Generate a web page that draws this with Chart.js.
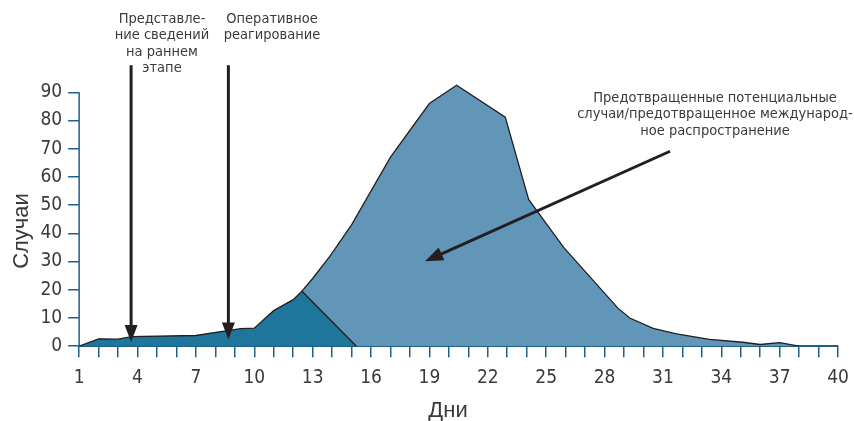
<!DOCTYPE html>
<html>
<head>
<meta charset="utf-8">
<script src="https://cdn.jsdelivr.net/npm/chart.js@4"></script>
<style>
  html, body { margin: 0; padding: 0; background: #fff; }
  #wrap { width: 854px; height: 421px; }
</style>
</head>
<body>
<div id="wrap"><canvas id="epiChart"></canvas></div>
<script>
// days and case counts
const earlyDays  = [1, 2, 3, 3.7, 7, 9.3, 10, 11, 12, 12.45, 15.25];
const earlyCases = [0, 2.6, 2.5, 3.4, 3.8, 6.2, 6.4, 12.6, 16.5, 19.5, 0];

const preventedDays  = [12.45, 13, 13.9, 15, 17, 19, 20.4, 22.9, 24.1, 25.9, 28.7, 29.3, 30.5, 31.7, 33.4, 35.1, 36, 37, 38];
const preventedCases = [19.5, 24, 32, 43, 67, 86, 92.5, 81.2, 52, 35, 13.4, 10, 6.3, 4.4, 2.4, 1.4, 0.6, 1.3, 0];

const xTickStep = 3;
const yTicks = [0, 10, 20, 30, 40, 50, 60, 70, 80, 90];

const labelEarly = ["Представле-", "ние сведений", "на раннем", "этапе"];
const labelResponse = ["Оперативное", "реагирование"];
const labelPrevented = ["Предотвращенные потенциальные", "случаи/предотвращенное международ-", "ное распространение"];
const xTitle = "Дни";
const yTitle = "Случаи";

const axisBlue = "#1d6088";
const textGray = "#3a3a3a";
const narrow = "'DejaVu Sans Condensed', 'Roboto', sans-serif";
const plain = "'Liberation Sans', Arial, sans-serif";

function toPoints(xs, ys) {
  return xs.map((x, i) => ({ x: x, y: ys[i] }));
}

function drawArrow(ctx, x1, y1, x2, y2, head, width) {
  const ang = Math.atan2(y2 - y1, x2 - x1);
  ctx.save();
  ctx.strokeStyle = "#231f20";
  ctx.fillStyle = "#231f20";
  ctx.lineWidth = 3;
  ctx.beginPath();
  ctx.moveTo(x1, y1);
  ctx.lineTo(x2 - Math.cos(ang) * head * 0.8, y2 - Math.sin(ang) * head * 0.8);
  ctx.stroke();
  ctx.beginPath();
  ctx.moveTo(x2, y2);
  ctx.lineTo(x2 - Math.cos(ang) * head + Math.sin(ang) * width, y2 - Math.sin(ang) * head - Math.cos(ang) * width);
  ctx.lineTo(x2 - Math.cos(ang) * head - Math.sin(ang) * width, y2 - Math.sin(ang) * head + Math.cos(ang) * width);
  ctx.closePath();
  ctx.fill();
  ctx.restore();
}

function drawLines(ctx, lines, cx, top, lh) {
  lines.forEach((t, i) => ctx.fillText(t, cx, top + i * lh));
}

const annotations = {
  id: "annotations",
  afterDraw(chart) {
    const ctx = chart.ctx;
    const xs = chart.scales.x;
    const ys = chart.scales.y;
    const px = v => xs.getPixelForValue(v);
    const py = v => ys.getPixelForValue(v);

    // y axis line only up to the last tick
    ctx.save();
    ctx.strokeStyle = axisBlue;
    ctx.lineWidth = 1.5;
    ctx.beginPath();
    ctx.moveTo(px(1), py(90));
    ctx.lineTo(px(1), py(0));
    ctx.stroke();
    ctx.restore();

    drawArrow(ctx, px(3.67), py(99.6), px(3.67), py(1.5), 17, 6.5);
    drawArrow(ctx, px(8.67), py(99.6), px(8.67), py(2.4), 17, 6.5);
    drawArrow(ctx, px(31.37), py(69.1), px(18.78), py(30.1), 18, 7);

    ctx.save();
    ctx.fillStyle = textGray;
    ctx.font = "14.5px " + narrow;
    ctx.textAlign = "center";
    ctx.textBaseline = "middle";
    drawLines(ctx, labelEarly, 162, 19, 16.5);
    drawLines(ctx, labelResponse, 272, 19, 16.5);
    drawLines(ctx, labelPrevented, 715, 98, 16.5);

    // axis titles, placed where the original has them
    ctx.font = "22px " + plain;
    ctx.fillText(xTitle, 448, 411);
    ctx.translate(22, 231);
    ctx.rotate(-Math.PI / 2);
    ctx.fillText(yTitle, 0, 0);
    ctx.restore();
  }
};

new Chart(document.getElementById("epiChart"), {
  type: "line",
  data: {
    datasets: [
      {
        label: "early",
        data: toPoints(earlyDays, earlyCases),
        backgroundColor: "#1f769c",
        borderColor: "#231f20",
        borderWidth: 1.3,
        pointRadius: 0,
        fill: "origin",
        tension: 0
      },
      {
        label: "prevented",
        data: toPoints(preventedDays, preventedCases),
        backgroundColor: "#6196b9",
        borderColor: "#231f20",
        borderWidth: 1.3,
        pointRadius: 0,
        fill: "origin",
        tension: 0
      }
    ]
  },
  options: {
    responsive: true,
    maintainAspectRatio: false,
    animation: false,
    layout: {
      padding: { top: 81, right: 4, bottom: 23, left: 4 }
    },
    scales: {
      x: {
        type: "linear",
        min: 1,
        max: 40,
        afterFit: axis => { axis.paddingRight = 16; },
        ticks: {
          stepSize: 1,
          autoSkip: false,
          maxRotation: 0,
          callback: v => ((v - 1) % xTickStep === 0 ? String(v) : ""),
          font: { family: narrow, size: 19 },
          color: textGray,
          padding: 9
        },
        grid: {
          drawOnChartArea: false,
          drawTicks: true,
          tickLength: 11,
          color: axisBlue,
          lineWidth: 1.5
        },
        border: { display: true, color: axisBlue, width: 2 },
        title: { display: false }
      },
      y: {
        min: 0,
        max: 94,
        afterBuildTicks: axis => { axis.ticks = yTicks.map(v => ({ value: v })); },
        ticks: {
          font: { family: narrow, size: 19 },
          color: textGray,
          padding: 6
        },
        grid: {
          drawOnChartArea: false,
          drawTicks: true,
          tickLength: 11,
          color: axisBlue,
          lineWidth: 1.5
        },
        border: { display: false },
        title: {
          display: true,
          text: yTitle,
          font: { family: plain, size: 22 },
          color: "rgba(0,0,0,0)",
          padding: { top: 0, bottom: 4 }
        }
      }
    },
    plugins: {
      legend: { display: false },
      tooltip: { enabled: false }
    }
  },
  plugins: [annotations]
});
</script>
</body>
</html>
